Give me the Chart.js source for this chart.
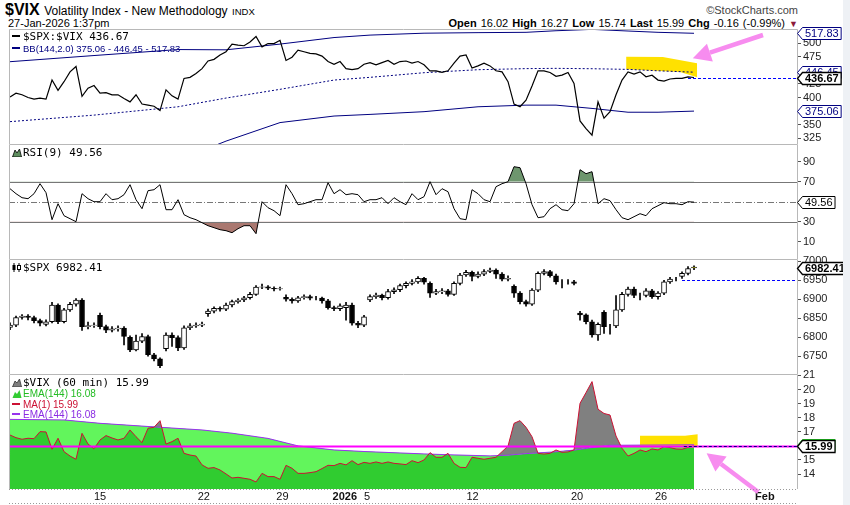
<!DOCTYPE html>
<html>
<head>
<meta charset="utf-8">
<title>$VIX Volatility Index - New Methodology</title>
<script src="https://cdn.jsdelivr.net/npm/chart.js@4.4.1/dist/chart.umd.min.js"></script>
<style>
	html, body { margin: 0; padding: 0; background: #fff; }
	#page { position: relative; width: 850px; height: 505px; overflow: hidden; background: #fff; font-family: "Liberation Sans", Arial, sans-serif; color: #000; }
	#page canvas { position: absolute; left: 0; }
	.txt { position: absolute; white-space: nowrap; line-height: 1; }
	.leg { position: absolute; left: 12px; white-space: nowrap; font: 11px "DejaVu Sans Mono", monospace; line-height: 11px; }
	.sub { font: 10px "Liberation Sans", Arial, sans-serif; }
	.dash { display: inline-block; width: 8px; height: 2px; vertical-align: middle; margin-right: 3px; position: relative; top: -1px; }
	svg.ic { width: 10px; height: 9px; vertical-align: -1px; margin-right: 1px; }
	#strip { position: absolute; left: 843px; top: 0; width: 7px; height: 505px; background: #eef1f5; }
</style>
</head>
<body>
<div id="page">
	<div class="txt" style="left:5px;top:2px"><b style="font-size:16px">$VIX</b> <span style="font-size:12px">Volatility Index - New Methodology</span> <span style="font-size:9.5px">INDX</span></div>
	<div class="txt" style="left:8px;top:18px;font-size:11px">27-Jan-2026 1:37pm</div>
	<div class="txt" style="right:52px;top:5px;font-size:11px;color:#444">&#169;StockCharts.com</div>
	<div class="txt" style="right:52px;top:18px;font-size:11px;word-spacing:1px"><b>Open</b> 16.02 <b>High</b> 16.27 <b>Low</b> 15.74 <b>Last</b> 15.99 <b>Chg</b> -0.16 (-0.99%) <span style="color:#8b1a3a;font-size:9px">&#9660;</span></div>

	<canvas id="ratio_chart" width="850" height="124" style="top:20px"></canvas>
	<canvas id="rsi_chart" width="850" height="119" style="top:140px"></canvas>
	<canvas id="spx_chart" width="850" height="119" style="top:255px"></canvas>
	<canvas id="vix_chart" width="850" height="137" style="top:368px"></canvas>

	<div class="leg" style="top:31px"><span class="dash" style="background:#000"></span>$SPX:$VIX 436.67</div>
	<div class="leg sub" style="top:42.5px;color:#000080;font-size:9.5px"><span class="dash" style="background:#000080"></span>BB(144,2.0) 375.06 - 446.45 - 517.83</div>

	<div class="leg" style="top:147px"><svg class="ic" viewBox="0 0 10 9"><path d="M0.5 9 L3 2 L5 5 L7.5 1 L9.5 9 Z" fill="#5f8f5f" stroke="#000" stroke-width="0.8"/></svg>RSI(9) 49.56</div>

	<div class="leg" style="top:262px"><svg class="ic" viewBox="0 0 10 9"><path d="M2 0v9M7 0v9" stroke="#000" stroke-width="1"/><rect x="0.5" y="2" width="3" height="5" fill="#000"/><rect x="5.5" y="2.5" width="3" height="4" fill="#fff" stroke="#000" stroke-width="1"/></svg>$SPX 6982.41</div>

	<div class="leg" style="top:377px"><svg class="ic" viewBox="0 0 10 9"><path d="M0.5 9 L3 3 L5 5 L7.5 1 L9.5 9 Z" fill="#808080" stroke="#333" stroke-width="0.8"/></svg>$VIX (60 min) 15.99</div>
	<div class="leg sub" style="top:388px;color:#22bb22"><svg class="ic" viewBox="0 0 10 9"><path d="M0.5 9 L3 3 L5 5 L7.5 1 L9.5 9 Z" fill="#33cc33"/></svg>EMA(144) 16.08</div>
	<div class="leg sub" style="top:398.5px;color:#cc1133"><span class="dash" style="background:#cc1133"></span>MA(1) 15.99</div>
	<div class="leg sub" style="top:409px;color:#8a2be2"><span class="dash" style="background:#9933ee"></span>EMA(144) 16.08</div>

	<div id="strip"></div>
</div>

<script>
'use strict';

// one point per two hourly bars, 9-Dec-2025 midday -> 27-Jan-2026 13:30
// x axis date labels (position in points)
var dateIdx = [15, 32.3, 45.4, 55.8, 59.5, 77.1, 94.5, 108.5, 125.8];
var dateLabels = ["15", "22", "29", "2026", "5", "12", "20", "26", "Feb"];

// $SPX:$VIX ratio
var ratio = [401,408,405,400,397,399,397,432,413,429,
	447,457,402,417,422,408,409,405,405,398,
	392,405,388,386,384,376,414,403,397,435,
	437,444,453,467,470,478,484,498,496,495,
	502,512,493,499,499,505,468,474,487,484,
	481,480,476,466,461,466,453,451,453,461,
	464,460,464,468,461,466,467,463,466,460,
	449,449,446,449,463,476,478,454,458,463,
	458,449,447,429,388,383,395,421,449,449,
	446,439,441,446,426,357,343,331,392,362,
	374,405,432,447,443,447,438,441,432,430,
	434,435,435,438,436.67];

// Bollinger bands (144,2.0), read at a few points
var bbIdx = [0, 14, 28, 36, 45, 54, 60, 69, 78, 86, 91, 97, 103, 108, 114];
var bbUpper = [465.7, 477, 488, 487.5, 498, 510, 514.5, 518, 519, 519.6, 522.5, 525, 522, 519.6, 517.83];
var bbMid = [355.7, 367.7, 383, 399, 415, 432, 437, 445.5, 451, 453, 453.5, 452.8, 451.6, 449, 446.45];
var bbLower = [246, 257, 285, 320, 354, 366, 369, 374, 383, 386, 386, 380, 373, 373, 375.06];
var ratioTicks = [325, 350, 400, 425, 475, 500];

// RSI(9)
var rsi = [63,58,54,53,58,68,59,32,48,36,
	33,30,58,53,50,50,58,52,53,57,
	67,52,43,61,62,67,42,42,52,37,
	34,32,29,26,24,22,21,19,23,26,
	26,18,50,44,41,36,67,58,47,48,
	50,52,52,69,58,62,57,58,57,50,
	52,52,54,48,54,50,47,58,52,55,
	70,57,63,60,43,33,32,62,58,52,
	50,65,68,70,85,84,68,47,34,35,
	43,47,42,41,48,82,78,80,48,53,
	51,42,34,32,35,38,36,43,46,49,
	48,48,47,50,49.56];
var rsiTicks = [10, 30, 70, 90];

// $SPX candles
var spxOpen = [6826,6832,6852,6856,6852,6844,6834,6841,6885,6841,
	6872,6887,6898,6828,6831,6858,6828,6819,6822,6824,
	6800,6767,6790,6802,6754,6743,6770,6806,6799,6772,
	6825,6830,6832,6862,6869,6876,6874,6885,6894,6898,
	6904,6913,6932,6933,6929,6927,6905,6900,6896,6904,
	6907,6903,6903,6896,6878,6875,6878,6885,6837,6832,
	6898,6907,6911,6904,6920,6925,6936,6942,6946,6955,
	6942,6916,6920,6922,6913,6942,6964,6971,6960,6966,
	6973,6977,6966,6953,6934,6916,6894,6887,6924,6968,
	6973,6962,6946,6946,6946,6864,6859,6841,6806,6866,
	6828,6830,6872,6913,6927,6910,6910,6922,6907,6916,
	6946,6953,6960,6968,6985];
var spxHigh = [6838,6856,6860,6860,6856,6848,6846,6892,6888,6876,
	6892,6902,6902,6840,6838,6864,6832,6828,6830,6828,
	6804,6806,6810,6806,6758,6746,6812,6812,6804,6830,
	6836,6838,6840,6874,6880,6880,6890,6898,6902,6908,
	6918,6936,6940,6936,6933,6932,6912,6904,6908,6912,
	6911,6908,6906,6900,6882,6888,6892,6890,6842,6858,
	6912,6916,6914,6926,6930,6940,6946,6952,6960,6958,
	6946,6926,6928,6926,6946,6968,6976,6974,6972,6978,
	6982,6980,6970,6962,6938,6920,6898,6928,6972,6978,
	6976,6966,6952,6952,6950,6868,6862,6845,6838,6870,
	6834,6910,6918,6932,6932,6916,6928,6926,6920,6950,
	6958,6958,6972,6986,6988];
var spxLow = [6820,6828,6848,6846,6838,6830,6830,6838,6836,6838,
	6868,6882,6818,6822,6826,6822,6812,6814,6816,6780,
	6762,6764,6786,6750,6738,6720,6764,6776,6765,6768,
	6820,6826,6828,6855,6864,6869,6870,6880,6890,6894,
	6900,6910,6928,6925,6922,6924,6895,6890,6892,6900,
	6898,6898,6890,6874,6870,6870,6845,6832,6825,6828,
	6894,6902,6898,6900,6915,6920,6930,6938,6942,6940,
	6905,6912,6915,6908,6910,6938,6960,6948,6956,6962,
	6970,6955,6948,6948,6905,6888,6882,6884,6920,6964,
	6958,6940,6930,6940,6938,6845,6835,6800,6792,6810,
	6808,6825,6868,6908,6904,6898,6906,6902,6900,6912,
	6942,6948,6955,6964,6978];
var spxClose = [6832,6852,6856,6852,6844,6837,6841,6885,6841,6872,
	6887,6898,6828,6831,6832,6828,6819,6822,6824,6802,
	6767,6790,6802,6754,6743,6725,6806,6799,6772,6825,
	6830,6832,6835,6869,6876,6874,6885,6894,6898,6904,
	6913,6932,6933,6929,6927,6928,6900,6896,6904,6907,
	6903,6903,6896,6878,6875,6883,6885,6837,6832,6854,
	6907,6911,6904,6920,6925,6936,6942,6946,6955,6945,
	6916,6920,6922,6913,6942,6964,6971,6960,6966,6973,
	6977,6966,6953,6955,6916,6894,6887,6924,6968,6973,
	6962,6946,6946,6946,6942,6859,6841,6806,6834,6828,
	6828,6872,6913,6927,6910,6910,6922,6907,6916,6946,
	6953,6953,6968,6981,6982.41];
var spxTicks = [6750, 6800, 6850, 6900, 6950, 7000];

// $VIX (60 min), MA(1) is the close itself
var vix = [16.77,16.58,16.47,16.54,16.51,17.01,16.99,15.76,16.54,15.59,
	15.28,15.05,16.89,16.13,15.80,16.42,16.73,16.56,16.42,16.54,
	17.13,16.65,16.23,17.25,17.32,17.79,16.13,16.30,16.54,15.47,
	15.35,15.28,14.65,14.41,14.46,14.29,14.01,13.72,13.77,13.70,
	13.63,13.44,14.05,13.82,13.82,13.63,14.62,14.41,14.05,14.05,
	14.10,14.17,14.39,14.62,14.60,14.76,14.65,14.95,14.67,14.83,
	14.76,14.86,14.76,14.86,14.76,14.72,14.67,14.95,14.81,15.00,
	15.52,15.19,15.19,15.47,14.76,14.48,14.46,15.19,15.12,15.05,
	15.12,15.19,15.59,15.99,17.60,17.79,17.32,16.65,15.47,15.42,
	15.47,15.71,15.54,15.57,15.71,19.02,19.78,20.56,18.60,18.30,
	18.19,16.70,15.83,15.28,15.47,15.71,15.59,15.78,15.71,15.95,
	15.88,15.78,15.76,15.90,15.99];
// EMA(144), read at a few points
var emaIdx = [0, 9, 15, 25, 32, 37, 43, 48, 54, 59, 69, 74, 80, 83, 86, 91, 94, 97, 100, 114];
var ema = [17.88, 17.84, 17.6, 17.32, 17.13, 16.9, 16.53, 16.0, 15.71, 15.6, 15.43, 15.36, 15.29, 15.34, 15.45, 15.58, 15.7, 15.88, 16.04, 16.08];
var vixTicks = [14, 15, 17, 18, 19, 20, 21];

(function(){

	var X_MIN = -0.17, X_MAX = 131.33;
	var FONT = '"Liberation Sans", Arial, sans-serif';

	// turn values into {x, y} points
	var pts = function(vals, idx){
		return vals.map(function(v, i){ return {x: idx ? idx[i] : i, y: v}; });
	};

	// horizontal level, from a point index (or the left edge) to the right edge
	var drawLevel = function(chart, l){
		var ctx = chart.ctx, a = chart.chartArea;
		var y = Math.round(chart.scales.y.getPixelForValue(l.value)) + 0.5;
		var x0 = l.from === undefined ? a.left : chart.scales.x.getPixelForValue(l.from);
		ctx.save();
		ctx.strokeStyle = l.color;
		ctx.lineWidth = l.width || 1;
		ctx.setLineDash(l.dash || []);
		ctx.beginPath();
		ctx.moveTo(x0, y);
		ctx.lineTo(a.right, y);
		ctx.stroke();
		ctx.restore();
	};

	var drawArrow = function(chart, ar){
		var ctx = chart.ctx, xs = chart.scales.x, ys = chart.scales.y;
		var x0 = xs.getPixelForValue(ar.tail[0]), y0 = ys.getPixelForValue(ar.tail[1]);
		var x1 = xs.getPixelForValue(ar.tip[0]), y1 = ys.getPixelForValue(ar.tip[1]);
		var ang = Math.atan2(y1 - y0, x1 - x0);
		var bx = x1 - Math.cos(ang) * ar.head, by = y1 - Math.sin(ang) * ar.head;
		var hw = ar.head * 0.52;
		ctx.save();
		ctx.strokeStyle = ar.color;
		ctx.fillStyle = ar.color;
		ctx.lineWidth = 4.5;
		ctx.beginPath();
		ctx.moveTo(x0, y0);
		ctx.lineTo(bx, by);
		ctx.stroke();
		ctx.beginPath();
		ctx.moveTo(x1, y1);
		ctx.lineTo(bx + Math.sin(ang) * hw, by - Math.cos(ang) * hw);
		ctx.lineTo(bx - Math.sin(ang) * hw, by + Math.cos(ang) * hw);
		ctx.closePath();
		ctx.fill();
		ctx.restore();
	};

	// value flag on the right axis
	var drawTag = function(chart, t){
		var ctx = chart.ctx, x = chart.chartArea.right - 0.5;
		var y = Math.round(chart.scales.y.getPixelForValue(t.value)) + 0.5;
		ctx.save();
		ctx.font = (t.bold ? 'bold ' : '') + '11px ' + FONT;
		var w = ctx.measureText(t.text).width + 5, h = 12, p = 5;
		ctx.beginPath();
		ctx.moveTo(x, y);
		ctx.lineTo(x + p, y - h / 2);
		ctx.lineTo(x + p + w, y - h / 2);
		ctx.lineTo(x + p + w, y + h / 2);
		ctx.lineTo(x + p, y + h / 2);
		ctx.closePath();
		ctx.fillStyle = '#fff';
		ctx.fill();
		ctx.lineWidth = t.bold ? 1.3 : 1;
		ctx.strokeStyle = t.color;
		ctx.stroke();
		ctx.fillStyle = t.color;
		ctx.textBaseline = 'middle';
		ctx.fillText(t.text, x + p + 2.5, y + 0.5);
		ctx.restore();
	};

	var decoPlugin = {
		id: 'deco',
		beforeDatasetsDraw: function(chart, args, o){
			var ctx = chart.ctx, xs = chart.scales.x, ys = chart.scales.y;
			(o.zones || []).forEach(function(z){
				ctx.save();
				ctx.fillStyle = z.color;
				ctx.beginPath();
				z.pts.forEach(function(p, k){
					var px = xs.getPixelForValue(p[0]), py = ys.getPixelForValue(p[1]);
					if (k) { ctx.lineTo(px, py); } else { ctx.moveTo(px, py); }
				});
				ctx.closePath();
				ctx.fill();
				ctx.restore();
			});
			(o.levels || []).forEach(function(l){ drawLevel(chart, l); });
		},
		afterDatasetsDraw: function(chart, args, o){
			(o.lines || []).forEach(function(l){ drawLevel(chart, l); });
			(o.arrows || []).forEach(function(ar){ drawArrow(chart, ar); });
		},
		afterDraw: function(chart, args, o){
			var ctx = chart.ctx, a = chart.chartArea;
			ctx.save();
			ctx.strokeStyle = '#b8b8b8';
			ctx.lineWidth = 1;
			ctx.beginPath();
			ctx.moveTo(a.left + 0.5, a.bottom);
			ctx.lineTo(a.left + 0.5, a.top + 0.5);
			ctx.lineTo(a.right - 0.5, a.top + 0.5);
			ctx.lineTo(a.right - 0.5, a.bottom);
			ctx.stroke();
			if (o.bottom) {
				ctx.setLineDash([1, 2]);
				ctx.strokeStyle = '#999';
				ctx.beginPath();
				ctx.moveTo(a.left, a.bottom + 0.5);
				ctx.lineTo(a.right, a.bottom + 0.5);
				ctx.moveTo(a.left, chart.height - 1.5);
				ctx.lineTo(a.right, chart.height - 1.5);
				ctx.stroke();
			}
			ctx.restore();
			(o.tags || []).forEach(function(t){ drawTag(chart, t); });
		}
	};

	var yAxis = function(min, max, ticks){
		return {
			type: 'linear', position: 'right', min: min, max: max,
			afterBuildTicks: function(s){ s.ticks = ticks.map(function(v){ return {value: v}; }); },
			afterFit: function(s){ s.width = 52; s.paddingTop = 0; s.paddingBottom = 0; },
			ticks: {color: '#222', padding: 2, font: {family: FONT, size: 11}, callback: function(v){ return String(v); }},
			grid: {drawOnChartArea: false, tickLength: 3, color: '#555'},
			border: {display: false}
		};
	};

	var xHidden = {type: 'linear', min: X_MIN, max: X_MAX, offset: false, display: false, grid: {offset: false}};

	var xDates = {
		type: 'linear', min: X_MIN, max: X_MAX, offset: false, position: 'bottom',
		afterBuildTicks: function(s){ s.ticks = dateIdx.map(function(v){ return {value: v}; }); },
		afterFit: function(s){ s.height = 16; s.paddingLeft = 0; s.paddingRight = 0; },
		ticks: {
			autoSkip: false, maxRotation: 0, minRotation: 0, padding: 1, color: '#111',
			font: function(c){
				var l = dateLabels[c.index];
				return {family: FONT, size: 11, weight: (l === '2026' || l === 'Feb') ? 'bold' : 'normal'};
			},
			callback: function(v, i){ return dateLabels[i]; }
		},
		grid: {display: false, drawTicks: false, tickLength: 0},
		border: {display: false}
	};

	var panel = function(id, padTop, x, y, datasets, deco){
		var ctx = document.getElementById(id).getContext('2d');
		return new Chart(ctx, {
			type: 'line',
			data: {datasets: datasets},
			options: {
				responsive: false,
				animation: false,
				devicePixelRatio: 1,
				layout: {padding: {left: 9, right: 0, top: padTop, bottom: 0}},
				elements: {point: {radius: 0}, line: {tension: 0, borderWidth: 1}},
				plugins: {
					legend: {display: false},
					tooltip: {enabled: false},
					filler: {drawTime: 'beforeDatasetsDraw'},
					deco: deco
				},
				scales: {x: x, y: y}
			},
			plugins: [decoPlugin]
		});
	};

	var PINK = '#f78cef', YELLOW = '#ffe100', NAVY = '#000080';

	// ratio with bollinger bands
	panel('ratio_chart', 9, xHidden, yAxis(314.7, 525.7, ratioTicks), [
		{data: pts(ratio), borderColor: '#000', borderWidth: 1.2},
		{data: pts(bbUpper, bbIdx), borderColor: NAVY},
		{data: pts(bbMid, bbIdx), borderColor: NAVY, borderDash: [2, 2]},
		{data: pts(bbLower, bbIdx), borderColor: NAVY}
	], {
		zones: [{color: YELLOW, pts: [[102.7, 474.8], [108.8, 474.3], [114.5, 462.8], [114.5, 437.1], [111.7, 446.8], [102.7, 451.7]]}],
		lines: [{value: 436.67, from: 113, color: '#0000ff', dash: [3, 2]}],
		arrows: [{tail: [125.5, 514.7], tip: [113.8, 471.9], head: 18, color: PINK}],
		tags: [
			{value: 517.83, text: '517.83', color: NAVY},
			{value: 375.06, text: '375.06', color: NAVY},
			{value: 446.45, text: '446.45', color: NAVY},
			{value: 436.67, text: '436.67', color: '#000', bold: true}
		]
	});

	// RSI(9)
	panel('rsi_chart', 4, xHidden, yAxis(-7.3, 107.7, rsiTicks), [
		{data: pts(rsi), borderColor: '#000', fill: {target: {value: 70}, above: '#6e966e', below: 'rgba(0,0,0,0)'}},
		{data: pts(rsi), borderWidth: 0, borderColor: 'rgba(0,0,0,0)', fill: {target: {value: 30}, above: 'rgba(0,0,0,0)', below: '#aa7870'}}
	], {
		levels: [
			{value: 70, color: '#777'},
			{value: 30, color: '#777'},
			{value: 50, color: '#777', dash: [6, 2, 1, 2]}
		],
		tags: [{value: 49.56, text: '49.56', color: '#000'}]
	});

	// $SPX candlesticks: body and wick as floating bars
	var last = spxClose.length - 1;
	panel('spx_chart', 4, xHidden, yAxis(6703.4, 7006, spxTicks), [
		{
			type: 'bar', grouped: false, barThickness: 5, borderWidth: 1, borderColor: '#000', borderSkipped: false,
			data: spxOpen.map(function(v, i){ return {x: i, y: [v, spxClose[i]]}; }),
			backgroundColor: function(c){
				var i = c.dataIndex;
				if (i === last) return '#f2ee22';
				return spxClose[i] > spxOpen[i] ? '#fff' : '#000';
			}
		},
		{
			type: 'bar', grouped: false, barThickness: 1, borderWidth: 0, backgroundColor: '#000',
			data: spxLow.map(function(v, i){ return {x: i, y: [v, spxHigh[i]]}; })
		}
	], {
		lines: [{value: 6950, from: 112, color: '#0000ff', dash: [3, 2]}],
		tags: [{value: 6982.41, text: '6982.41', color: '#000', bold: true}]
	});

	// $VIX with EMA(144) areas
	panel('vix_chart', 6, xDates, yAxis(12.94, 21.1, vixTicks), [
		{data: pts(vix), borderColor: '#cc1133', fill: {target: 1, above: '#808080', below: '#62f55c'}},
		{data: pts(ema, emaIdx), borderColor: '#9933ee', backgroundColor: '#30cc30', fill: 'start'}
	], {
		bottom: true,
		zones: [{color: YELLOW, pts: [[105, 16.72], [112.5, 16.72], [114.6, 16.82], [114.6, 15.9], [105, 15.9]]}],
		lines: [
			{value: 15.97, color: '#ff00ff', width: 2},
			{value: 15.99, from: 112.3, color: NAVY, dash: [3, 2]}
		],
		arrows: [{tail: [124.7, 12.73], tip: [116.1, 15.48], head: 18, color: PINK}],
		tags: [
			{value: 16.08, text: '16.08', color: '#22cc22'},
			{value: 15.99, text: '15.99', color: '#000', bold: true}
		]
	});

})();
</script>
</body>
</html>
